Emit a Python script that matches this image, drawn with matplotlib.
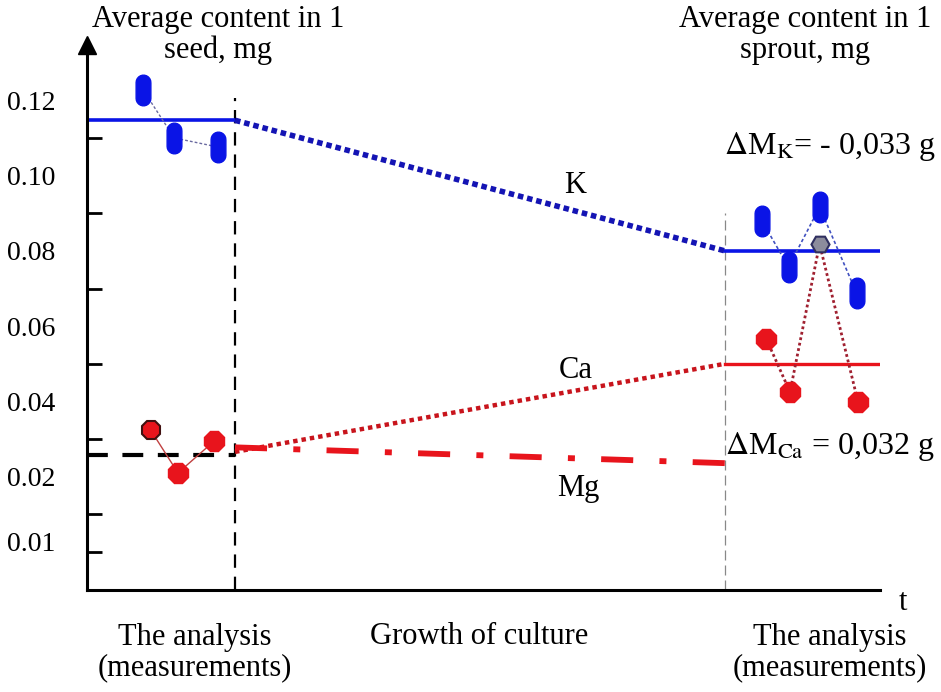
import numpy as np
import matplotlib.pyplot as plt
from matplotlib.path import Path

plt.rcParams['font.family'] = ['Liberation Serif', 'DejaVu Serif']
plt.rcParams['mathtext.fontset'] = 'stix'

# time axis in arbitrary units: seed analysis 0..1, growth 1..4.31, sprout analysis after
seed_end = 1.0
sprout_start = 4.31
sprout_end = 5.36

# K, mg
k_seed_x = [0.38, 0.59, 0.885]
k_seed_y = [0.1227, 0.110, 0.1076]
k_seed_mean = 0.1147
k_sprout_x = [4.56, 4.74, 4.95, 5.20]
k_sprout_y = [0.088, 0.0757, 0.0916, 0.0688]
k_sprout_mean = 0.080

# Ca, mg
ca_seed_x = [0.43, 0.615, 0.86]
ca_seed_y = [0.0324, 0.021, 0.0295]
ca_start = 0.0266
ca_sprout_x = [4.59, 4.75, 5.21]
ca_sprout_y = [0.0566, 0.0425, 0.0398]
ca_sprout_mean = 0.050

# Mg, mg
mg_seed_mean = 0.0258
mg_start = 0.0278
mg_end = 0.0236

# grey point where the sprout curves cross
mix_x = 4.95
mix_y = 0.0818

tick_pos = [0.0027, 0.02, 0.04, 0.06, 0.08, 0.10, 0.12]
tick_labels = ['0.01', '0.02', '0.04', '0.06', '0.08', '0.10', '0.12']

BLUE = '#0a14e6'
DBLUE = '#1414b4'
RED = '#e8141c'
DRED = '#c8141c'


def capsule():
    t = np.linspace(0, np.pi, 12)
    w, h = 0.48, 1.0
    r = w / 2
    top = np.c_[r * np.cos(t), h / 2 - r + r * np.sin(t)]
    bot = np.c_[-r * np.cos(t), -h / 2 + r - r * np.sin(t)]
    v = np.vstack([top, bot, top[:1]])
    return Path(v)


fig = plt.figure(figsize=(9.41, 6.92), dpi=100)
ax = fig.add_axes([87 / 941, 1 - 590 / 692, (880 - 87) / 941, (590 - 45) / 692])
ax.set_xlim(0, (880 - 87) / 148)
ax.set_ylim(-0.0101, 0.1347)

for s in ['top', 'right']:
    ax.spines[s].set_visible(False)
for s in ['left', 'bottom']:
    ax.spines[s].set_linewidth(2.2)
ax.plot(0, 1, marker='^', color='k', ms=13, transform=ax.transAxes, clip_on=False)

ax.set_xticks([])
ax.set_yticks(tick_pos)
ax.set_yticklabels(tick_labels, fontsize=20)
ax.tick_params(axis='y', which='major', length=0, pad=23)
ax.set_yticks(np.arange(0, 0.1201, 0.01), minor=True)
ax.tick_params(axis='y', which='minor', direction='in', length=11, width=2)

# phase boundaries
ax.plot([seed_end, seed_end], [-0.0101, 0.1205], color='k', lw=1.6, ls=(0, (6, 4)))
ax.plot([sprout_start, sprout_start], [-0.0101, 0.090], color='#888888', lw=0.9, ls=(0, (8, 4)))

# seed means
ax.plot([0, seed_end], [k_seed_mean, k_seed_mean], color=BLUE, lw=2.6, solid_capstyle='butt')
ax.plot([0, seed_end], [mg_seed_mean, mg_seed_mean], color='k', lw=3, ls=(0, (5, 3.5)))

# sprout means
ax.plot([sprout_start, sprout_end], [k_sprout_mean, k_sprout_mean], color=BLUE, lw=2.6)
ax.plot([sprout_start, sprout_end], [ca_sprout_mean, ca_sprout_mean], color=RED, lw=2.4)

# growth period trends
ax.plot([seed_end, sprout_start], [k_seed_mean, k_sprout_mean], color=DBLUE, lw=4, ls=(0, (1, 0.7)))
ax.plot([seed_end, sprout_start], [ca_start, ca_sprout_mean], color=DRED, lw=3.2, ls=(0, (1, 0.9)))
ax.plot([seed_end, sprout_start], [mg_start, mg_end], color=RED, lw=4.2, ls=(0, (5.5, 4.5, 1.2, 4.5)))

# measurement connectors
ax.plot(k_seed_x, k_seed_y, color='#6a6aa0', lw=1, ls=(0, (2, 1.5)))
ax.plot(ca_seed_x, ca_seed_y, color='#c04040', lw=1)
ax.plot(k_sprout_x, k_sprout_y, color='#4050c0', lw=1.2, ls=(0, (2, 1.5)))
ax.plot([ca_sprout_x[0], ca_sprout_x[1], mix_x, ca_sprout_x[2]],
        [ca_sprout_y[0], ca_sprout_y[1], mix_y, ca_sprout_y[2]],
        color='#a02030', lw=2, ls=(0, (1, 1)))

cap = capsule()
ax.plot(k_seed_x, k_seed_y, ls='none', marker=cap, ms=22, color=BLUE, mec=BLUE)
ax.plot(k_sprout_x, k_sprout_y, ls='none', marker=cap, ms=22, color=BLUE, mec=BLUE)
ax.plot(ca_seed_x[:1], ca_seed_y[:1], ls='none', marker='8', ms=14, color=RED, mec='#401010', mew=1.5)
ax.plot(ca_seed_x[1:], ca_seed_y[1:], ls='none', marker='8', ms=15, color=RED, mec=RED)
ax.plot(ca_sprout_x, ca_sprout_y, ls='none', marker='8', ms=15, color=RED, mec=RED)
ax.plot([mix_x], [mix_y], ls='none', marker='H', ms=13, color='#8c8c9c', mec='#303060', mew=1.5)

# labels
fs = 22
ls2 = 1.07
ax.text(0.885, 0.1373, 'Average content in 1\nseed, mg', ha='center', va='center',
        fontsize=fs, linespacing=ls2, clip_on=False)
ax.text(4.85, 0.1373, 'Average content in 1\nsprout, mg', ha='center', va='center',
        fontsize=fs, linespacing=ls2, clip_on=False)
ax.text(3.30, 0.0975, 'K', ha='center', va='center', fontsize=fs)
ax.text(3.30, 0.0483, 'Ca', ha='center', va='center', fontsize=fs)
ax.text(3.32, 0.0170, 'Mg', ha='center', va='center', fontsize=fs)
ax.text(5.02, 0.1076, r'$\Delta$M$_{\rm K}$= - 0,033 g', ha='center', va='center', fontsize=23)
ax.text(5.02, 0.0279, r'$\Delta$M$_{\rm Ca}$ = 0,032 g', ha='center', va='center', fontsize=23)
ax.text(5.515, -0.0135, 't', ha='center', va='center', fontsize=fs, clip_on=False)

ax.text(0.73, -0.0268, 'The analysis\n(measurements)', ha='center', va='center',
        fontsize=fs, linespacing=ls2, clip_on=False)
ax.text(2.65, -0.0225, 'Growth of culture', ha='center', va='center', fontsize=fs, clip_on=False)
ax.text(5.02, -0.0268, 'The analysis\n(measurements)', ha='center', va='center',
        fontsize=fs, linespacing=ls2, clip_on=False)

fig.savefig('out.png', dpi=100)
